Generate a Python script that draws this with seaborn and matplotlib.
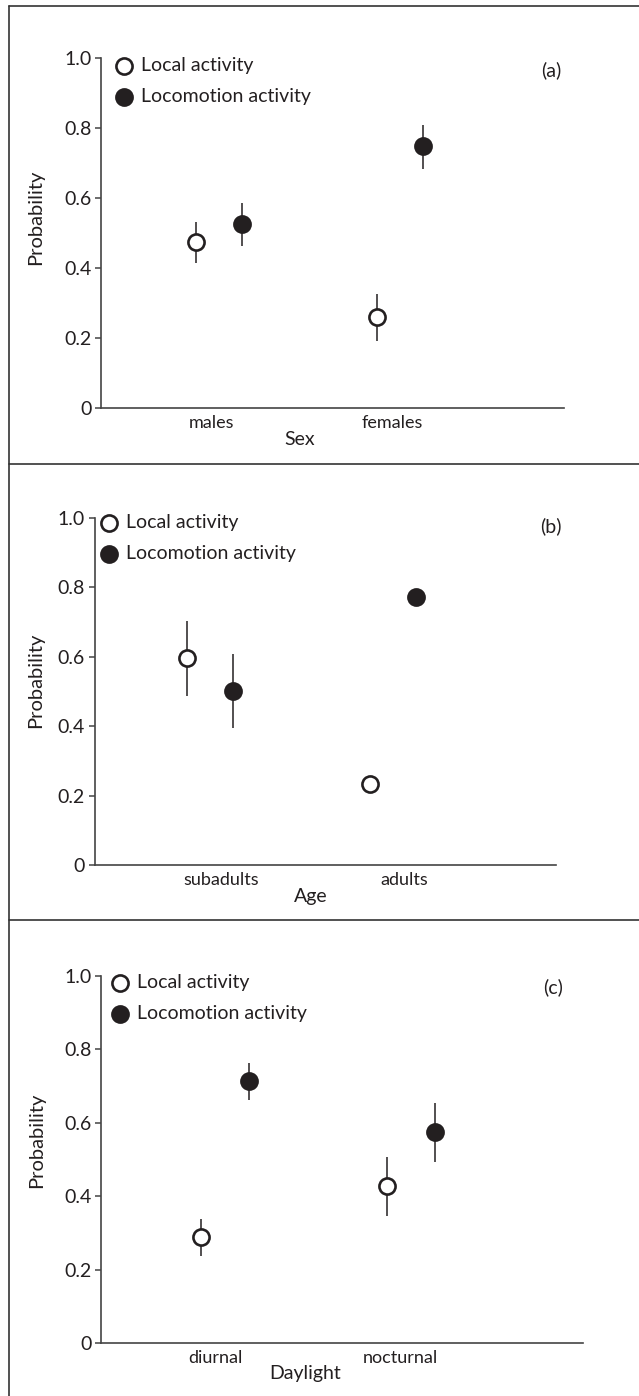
import numpy as np
import matplotlib
matplotlib.use("Agg")
import matplotlib.pyplot as plt
from matplotlib.lines import Line2D
import seaborn as sns

# ---------------- data ----------------
series_names = ["Local activity", "Locomotion activity"]

a_categories = ["males", "females"]
a_local = [0.475, 0.261]
a_local_lo = [0.413, 0.192]
a_local_hi = [0.532, 0.325]
a_loco = [0.526, 0.749]
a_loco_lo = [0.464, 0.683]
a_loco_hi = [0.587, 0.809]

b_categories = ["subadults", "adults"]
b_local = [0.595, 0.233]
b_local_lo = [0.488, 0.233]
b_local_hi = [0.703, 0.233]
b_loco = [0.501, 0.773]
b_loco_lo = [0.394, 0.773]
b_loco_hi = [0.607, 0.773]

c_categories = ["diurnal", "nocturnal"]
c_local = [0.290, 0.429]
c_local_lo = [0.239, 0.347]
c_local_hi = [0.338, 0.506]
c_loco = [0.714, 0.576]
c_loco_lo = [0.662, 0.494]
c_loco_hi = [0.764, 0.655]

x_titles = ["Sex", "Age", "Daylight"]
panel_tags = ["(a)", "(b)", "(c)"]
y_title = "Probability"
y_ticks = [0, 0.2, 0.4, 0.6, 0.8, 1.0]
y_tick_labels = ["0", "0.2", "0.4", "0.6", "0.8", "1.0"]

# ---------------- style ----------------
sns.set_theme(style="white")
plt.rcParams["font.family"] = ["Lato", "DejaVu Sans"]
INK = "#231f20"
FS = 14

W, H = 639, 1396
fig = plt.figure(figsize=(W / 100, H / 100), dpi=100)

def px_rect(left, right, top, bottom):
    return [left / W, 1 - bottom / H, (right - left) / W, (bottom - top) / H]

panels = [
    dict(cats=a_categories,
         local=(a_local, a_local_lo, a_local_hi), loco=(a_loco, a_loco_lo, a_loco_hi),
         rect=px_rect(101, 564, 58, 408), offs=(-0.083, 0.171), xlim=(-0.608, 1.950),
         ylab=(-0.1406, 0.544), xlab=(0.429, -0.0886), leg=(115, 65.7, 97.3), tag=(551, 70)),
    dict(cats=b_categories,
         local=(b_local, b_local_lo, b_local_hi), loco=(b_loco, b_loco_lo, b_loco_hi),
         rect=px_rect(94.5, 556, 517.7, 865), offs=(-0.186, 0.066), xlim=(-0.691, 1.831),
         ylab=(-0.127, 0.533), xlab=(0.468, -0.0913), leg=(100, 523, 553.3), tag=(551, 526.7)),
    dict(cats=c_categories,
         local=(c_local, c_local_lo, c_local_hi), loco=(c_loco, c_loco_lo, c_loco_hi),
         rect=px_rect(101, 583, 976, 1343.3), offs=(-0.073, 0.183), xlim=(-0.614, 1.983),
         ylab=(-0.133, 0.553), xlab=(0.423, -0.0817), leg=(111, 983.3, 1015), tag=(553, 987.3)),
]

for i, p in enumerate(panels):
    ax = fig.add_axes(p["rect"])
    idx = np.arange(len(p["cats"]))
    styles = [dict(facecolor="white"), dict(facecolor=INK)]
    for (vals, lo, hi), off, name, st in zip([p["local"], p["loco"]], p["offs"], series_names, styles):
        vals = np.asarray(vals); lo = np.asarray(lo); hi = np.asarray(hi)
        pos = idx + off
        ax.vlines(pos, lo, hi, color=INK, linewidth=1.1, zorder=2)
        sns.scatterplot(x=pos, y=vals, ax=ax, marker="o", s=135,
                        facecolor=st["facecolor"], edgecolor=INK, linewidth=1.9,
                        label=name, zorder=3)
    ax.set_xlim(*p["xlim"])
    ax.set_ylim(0, 1.0)
    ax.set_xticks(idx)
    ax.set_xticklabels(p["cats"], fontsize=FS - 1, color=INK)
    ax.set_yticks(y_ticks)
    ax.set_yticklabels(y_tick_labels, fontsize=FS, color=INK)
    ax.tick_params(axis="x", length=0, pad=5)
    ax.tick_params(axis="y", length=4, width=1.1, color="#444444", direction="out", pad=3, left=True)
    for side in ["top", "right"]:
        ax.spines[side].set_visible(False)
    for side in ["left", "bottom"]:
        ax.spines[side].set_color("#444444")
        ax.spines[side].set_linewidth(1.2)
    ax.set_ylabel(y_title, fontsize=FS + 0.5, color=INK)
    ax.yaxis.set_label_coords(*p["ylab"])
    ax.yaxis.label.set_va("center")
    ax.set_xlabel(x_titles[i], fontsize=FS, color=INK)
    ax.xaxis.label.set_va("center")
    ax.xaxis.set_label_coords(*p["xlab"])

    # legend
    lx, ly1, ly2 = p["leg"]
    leg = ax.legend(loc="upper left", frameon=False, fontsize=FS,
                    bbox_to_anchor=(lx / W, 1 - (ly1 - 9) / H), bbox_transform=fig.transFigure,
                    borderpad=0, borderaxespad=0, handletextpad=0.45, handlelength=0.9,
                    labelspacing=0.72, markerscale=1.0)
    for t in leg.get_texts():
        t.set_color(INK)

    fig.text(p["tag"][0] / W, 1 - p["tag"][1] / H, panel_tags[i], ha="center", va="center",
             fontsize=FS, color=INK)

# frame lines around panels
frame_kw = dict(color="#333333", linewidth=1.2, transform=fig.transFigure)
fig.add_artist(Line2D([9 / W, 9 / W], [1 - 6 / H, 0], **frame_kw))
for yy in [6, 464, 920]:
    fig.add_artist(Line2D([9 / W, 1], [1 - yy / H, 1 - yy / H], **frame_kw))

fig.savefig("out.png", dpi=100)
